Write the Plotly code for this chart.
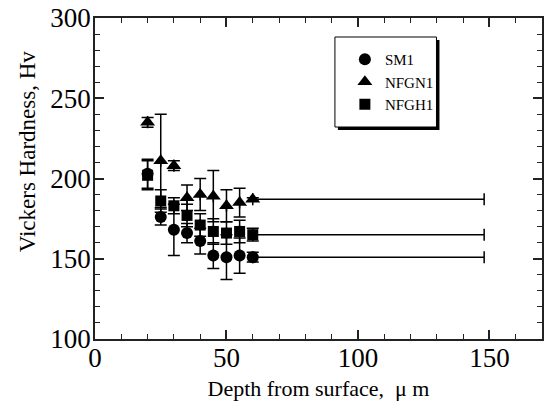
import plotly.graph_objects as go

depth = [20, 25, 30, 35, 40, 45, 50, 55, 60]

sm1 = [203, 176, 168, 166, 161, 152, 151, 152, 151]
sm1_err = [9, 5, 16, 6, 8, 8, 14, 11, 3]

nfgn1 = [235, 211, 208, 188, 190, 189, 183, 185, 187]
nfgn1_err = [3, 29, 3, 8, 10, 16, 10, 9, 1]

nfgh1 = [202, 186, 183, 177, 171, 167, 166, 167, 165]
nfgh1_err = [9, 7, 5, 7, 7, 8, 7, 7, 4]

# horizontal error (range) on the deepest point of each series
x_err_plus = [0, 0, 0, 0, 0, 0, 0, 0, 88]
x_err_minus = [0, 0, 0, 0, 0, 0, 0, 0, 0]

series = [
    ("SM1", sm1, sm1_err, "circle", 12),
    ("NFGN1", nfgn1, nfgn1_err, "triangle-up", 13),
    ("NFGH1", nfgh1, nfgh1_err, "square", 11),
]

fig = go.Figure()
for name, vals, err, sym, size in series:
    fig.add_trace(go.Scatter(
        x=depth, y=vals, name=name, mode="markers",
        marker=dict(symbol=sym, size=size, color="black"),
        error_y=dict(type="data", array=err, visible=True, color="black",
                     thickness=1.5, width=6),
        error_x=dict(type="data", array=x_err_plus, arrayminus=x_err_minus,
                     symmetric=False, visible=True, color="black",
                     thickness=1.5, width=6),
    ))

font_family = "Liberation Serif"

fig.update_layout(
    width=545, height=405,
    margin=dict(l=95, r=1, t=18, b=66),
    paper_bgcolor="white", plot_bgcolor="white",
    font=dict(family=font_family, color="black"),
    showlegend=True,
    legend=dict(
        x=(346 - 95) / 449, y=(339 - 43) / 321, xanchor="left", yanchor="top",
        bgcolor="rgba(0,0,0,0)", borderwidth=0,
        font=dict(size=15, family=font_family, color="black"),
        tracegroupgap=0, itemwidth=30,
    ),
    shapes=[
        dict(type="rect", xref="paper", yref="paper",
             x0=(339 - 95) / 449, x1=(441 - 95) / 449,
             y0=(339 - 130) / 321, y1=(339 - 40) / 321,
             fillcolor="black", line=dict(width=0), layer="below"),
        dict(type="rect", xref="paper", yref="paper",
             x0=(336 - 95) / 449, x1=(438 - 95) / 449,
             y0=(339 - 127) / 321, y1=(339 - 37) / 321,
             fillcolor="white", line=dict(color="black", width=1), layer="below"),
    ],
    annotations=[
        dict(text="Vickers Hardness, Hv", textangle=-90, showarrow=False,
             xref="paper", yref="paper", x=(27 - 95) / 449, y=(339 - 151) / 321,
             xanchor="center", yanchor="middle",
             font=dict(size=23, family=font_family, color="black")),
    ],
)

fig.update_xaxes(
    range=[0, 170], dtick=50, tick0=0,
    showgrid=False, zeroline=False,
    showline=True, linecolor="#222", linewidth=1.5, mirror="ticks",
    ticks="inside", ticklen=9, tickwidth=1.5, tickcolor="#222",
    minor=dict(ticks="inside", dtick=10, ticklen=5, tickwidth=1, tickcolor="#222"),
    tickfont=dict(size=27, family=font_family),
    ticklabelstandoff=-6,
    title=dict(text="Depth from surface,  \u03bc m", font=dict(size=22, family=font_family), standoff=8),
)
fig.update_yaxes(
    range=[100, 300], dtick=50, tick0=100,
    showgrid=False, zeroline=False,
    showline=True, linecolor="#222", linewidth=1.5, mirror="ticks",
    ticks="inside", ticklen=9, tickwidth=1.5, tickcolor="#222",
    minor=dict(ticks="inside", dtick=10, ticklen=5, tickwidth=1, tickcolor="#222"),
    tickfont=dict(size=27, family=font_family),
    ticklabelstandoff=-3,
)

fig.write_html("out.html")
